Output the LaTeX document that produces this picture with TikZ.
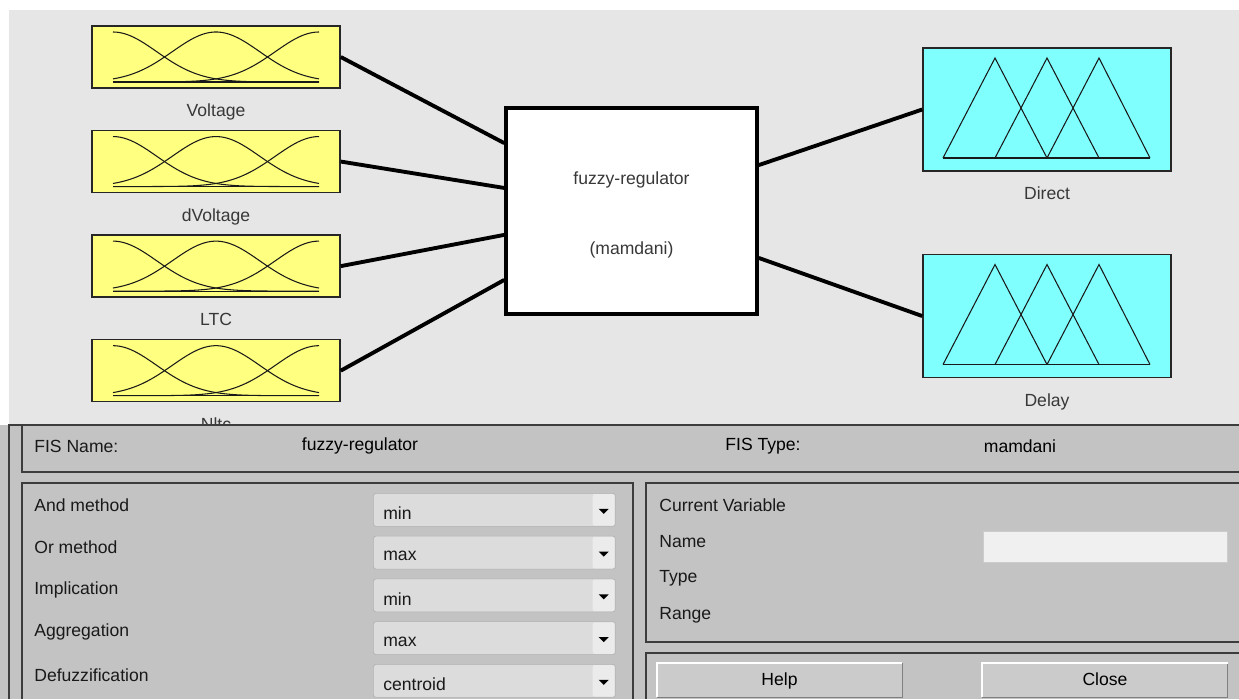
\documentclass[tikz,border=0pt]{standalone}
\usepackage{fontspec}
\setmainfont{Liberation Sans}
\usetikzlibrary{positioning, calc}
\definecolor{canvas}{HTML}{E6E6E6}
\definecolor{panel}{HTML}{C3C3C3}
\definecolor{frameline}{HTML}{3C3C3C}
\definecolor{inyellow}{HTML}{FFFF80}
\definecolor{outcyan}{HTML}{80FFFF}
\definecolor{capgray}{HTML}{383838}
\definecolor{combofill}{HTML}{DCDCDC}
\definecolor{combobtn}{HTML}{EBEBEB}
\definecolor{comboedge}{HTML}{B2B2B2}
\definecolor{fieldfill}{HTML}{F0F0F0}
\definecolor{btnfill}{HTML}{CBCBCB}

\begin{document}
\begin{tikzpicture}[
    x=0.02cm, y=-0.02cm,
    every node/.style={font=\fontsize{10}{12}\selectfont},
    invar/.style={
        rectangle,
        draw=black!85,
        fill=inyellow,
        line width=0.9pt,
        minimum width=4.96cm,
        minimum height=1.24cm
    },
    outvar/.style={invar, fill=outcyan, minimum height=2.46cm},
    fisbox/.style={
        rectangle,
        draw=black,
        fill=white,
        line width=2pt,
        minimum width=5.02cm,
        minimum height=4.12cm
    },
    caption/.style={inner sep=0pt, text=capgray},
    wire/.style={line width=2.2pt, color=black},
    mf/.style={line width=0.6pt, color=black!90},
    frame/.style={draw=frameline, line width=1.1pt},
    txt/.style={inner sep=0pt, anchor=west, text=black!90},
    combo/.style={
        rectangle,
        rounded corners=1.5pt,
        draw=comboedge,
        fill=combofill,
        minimum width=4.84cm,
        minimum height=0.66cm,
        anchor=north west
    },
    button/.style={
        rectangle,
        draw=black!50,
        fill=btnfill,
        minimum width=4.9cm,
        minimum height=0.68cm,
        inner sep=0pt,
        text height=1.6ex,
        text depth=0.4ex
    }
]

\useasboundingbox (0,0) rectangle (1239,699);
\fill[canvas] (9,10) rectangle (1239,425);

\node[invar] (in1) at (216,57) {};
\node[invar, below=0.82cm of in1] (in2) {};
\node[invar, below=0.82cm of in2] (in3) {};
\node[invar, below=0.82cm of in3] (in4) {};

\node[caption, below=0.3cm of in1] (lb1) {Voltage};
\node[caption, below=0.3cm of in2] (lb2) {dVoltage};
\node[caption, below=0.3cm of in3] (lb3) {LTC};
\node[caption, below=0.3cm of in4] (lb4) {Nltc};

\foreach \n in {in1,in2,in3,in4}{
    \begin{scope}[shift={(\n.center)}]
        \draw[mf] (-103,25) -- (103,25);
        \foreach \c in {-103,0,103}
            \draw[mf] plot[domain=-103:103, samples=60, smooth]
                (\x, {25-50*exp(-0.5*((\x-\c)/43.7)^2)});
    \end{scope}
}

\node[fisbox] (fis) at (631.5,211) {};
\node[caption] (fis-name) at ($(fis.center)+(0,-31)$) {fuzzy-regulator};
\node[caption] (fis-type) at ($(fis.center)+(0,39)$) {(mamdani)};

\node[outvar] (out1) at (1047,109.5) {};
\node[outvar, below=1.64cm of out1] (out2) {};

\node[caption, below=0.3cm of out1] (lb5) {Direct};
\node[caption, below=0.3cm of out2] (lb6) {Delay};

\foreach \n in {out1,out2}{
    \begin{scope}[shift={(\n.center)}]
        \draw[mf] (-104,48.5) -- (103,48.5);
        \draw[mf] (-104,48.5) -- (-52,-51.5) -- (0,48.5);
        \draw[mf] (-52,48.5) -- (0,-51.5) -- (52,48.5);
        \draw[mf] (0,48.5) -- (52,-51.5) -- (103,48.5);
    \end{scope}
}

\coordinate (fis-in1) at ($(fis.north west)!0.176!(fis.south west)$);
\coordinate (fis-in2) at ($(fis.north west)!0.39!(fis.south west)$);
\coordinate (fis-in3) at ($(fis.north west)!0.614!(fis.south west)$);
\coordinate (fis-in4) at ($(fis.north west)!0.829!(fis.south west)$);
\coordinate (fis-out1) at ($(fis.north east)!0.281!(fis.south east)$);
\coordinate (fis-out2) at ($(fis.north east)!0.724!(fis.south east)$);

\draw[wire] (in1.east) -- (fis-in1);
\draw[wire] (in2.east) -- (fis-in2);
\draw[wire] (in3.east) -- (fis-in3);
\draw[wire] (in4.east) -- (fis-in4);
\draw[wire] (fis-out1) -- (out1.west);
\draw[wire] (fis-out2) -- (out2.west);

\fill[panel] (0,425) rectangle (1239,699);
\draw[frame] (9,699) -- (9,425) -- (1239,425);
\draw[frame] (22,425) -- (22,472) -- (1239,472);
\draw[frame] (22,699) -- (22,483) -- (633,483) -- (633,699);
\draw[frame] (1239,483) -- (646,483) -- (646,642) -- (1239,642);
\draw[frame] (1239,653) -- (646,653) -- (646,699);

\node[txt] (fisname) at (34,446) {FIS Name:};
\node[inner sep=0pt] (fisnameval) at (360,446) {fuzzy-regulator};
\node[inner sep=0pt] (fistype) at (763,446) {FIS Type:};
\node[inner sep=0pt] (fistypeval) at (1020,446) {mamdani};

\node[txt] (m1) at (34,505) {And method};
\node[txt] (m2) at (34,547) {Or method};
\node[txt] (m3) at (34,590) {Implication};
\node[txt] (m4) at (34,632) {Aggregation};
\node[txt] (m5) at (34,675) {Defuzzification};

\foreach \v [count=\i] in {min,max,min,max,centroid}{
    \node[combo] (combo\i) at (373,{493+(\i-1)*42.75}) {};
    \fill[combobtn, rounded corners=1.2pt] ($(combo\i.north east)+(-23,1)$) rectangle ($(combo\i.south east)+(-1,-1)$);
    \fill[black] ($(combo\i.east)+(-17,-1)$) -- ++(10,0) -- ++(-5,5) -- cycle;
    \node[txt] (cv\i) at ($(combo\i.west)+(10,3.5)$) {\v};
}

\node[txt] (curvar) at (659,505) {Current Variable};
\node[txt] (vname) at (659,542) {Name};
\node[txt] (vtype) at (659,578) {Type};
\node[txt] (vrange) at (659,615) {Range};
\node[rectangle, draw=black!20, fill=fieldfill, minimum width=4.88cm, minimum height=0.62cm] (namefield) at (1105,546.5) {};

\node[button] (help) at (779.5,680) {Help};
\node[button] (close) at (1105,680) {Close};
\draw[white, line width=1pt] (help.south west) -- (help.north west) -- (help.north east);
\draw[white, line width=1pt] (close.south west) -- (close.north west) -- (close.north east);

\end{tikzpicture}
\end{document}
